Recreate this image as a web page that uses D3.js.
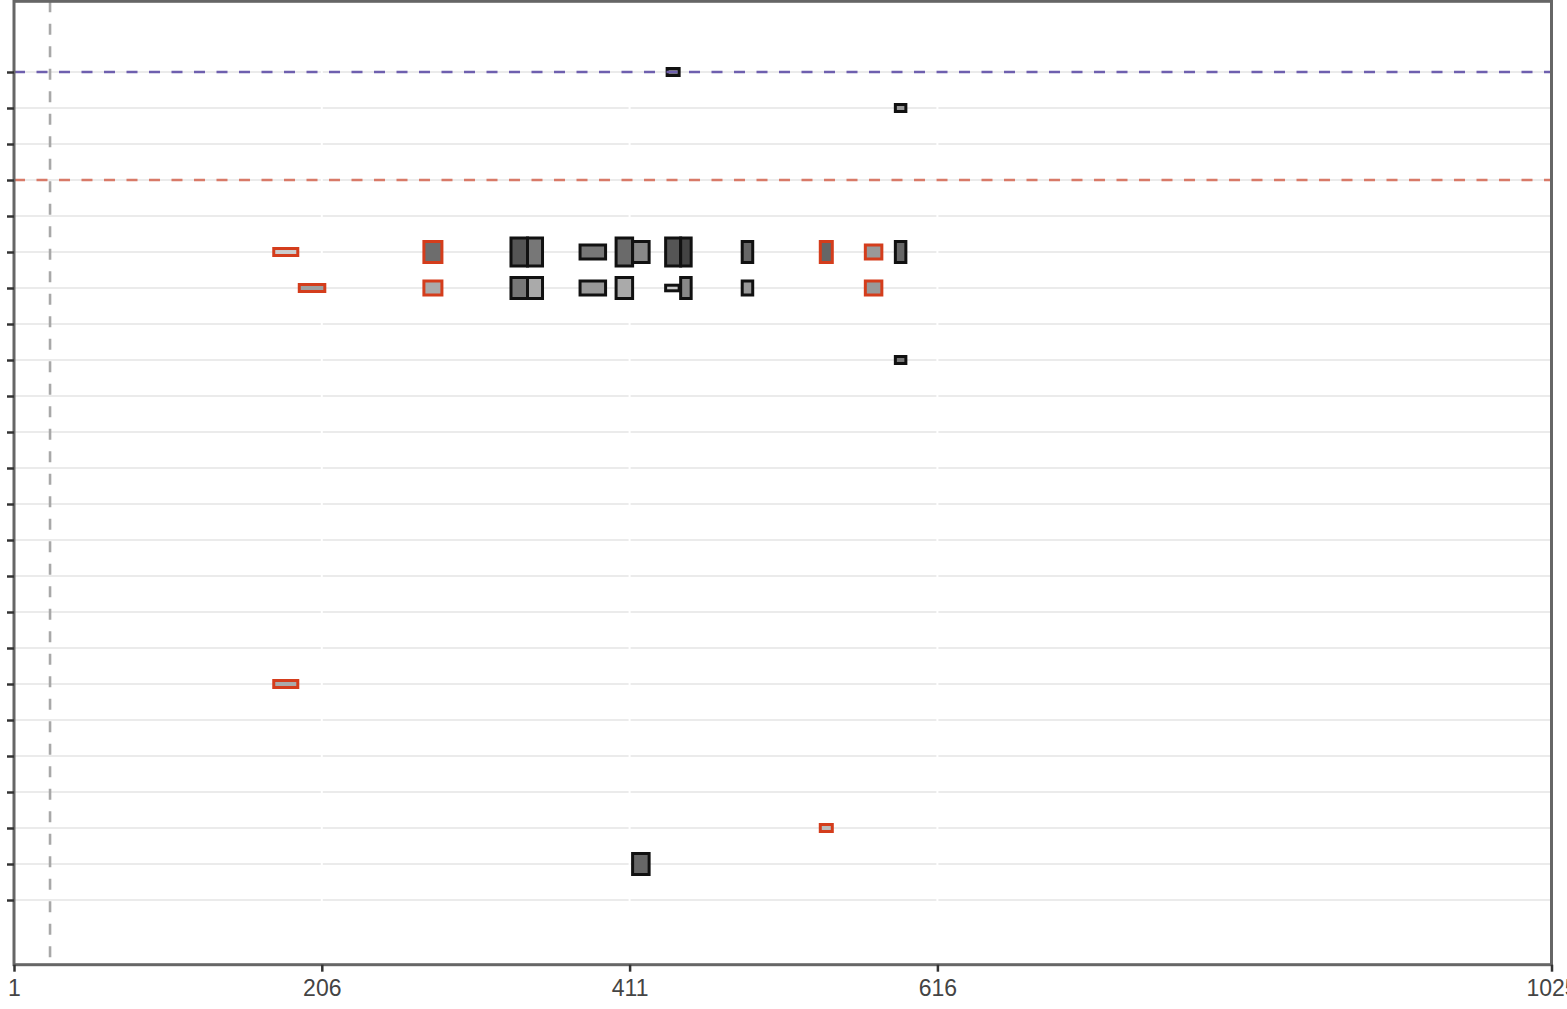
<!DOCTYPE html>
<html><head><meta charset="utf-8">
<script src="https://cdn.jsdelivr.net/npm/d3@7"></script>
<style>body{margin:0;background:#fff}svg{display:block}</style>
</head><body>
<svg id="chart" width="1567" height="1009"></svg>
<script>
// ---- data ----
const rowLabels = ["R1","R2","R3","R4","R5","R6","R7","R8","R9","R10","R11","R12",
  "R13","R14","R15","R16","R17","R18","R19","R20","R21","R22","R23","R24"];
const xTicks = [1, 206, 411, 616, 1025];
const featRow   = ["R1","R2","R6","R7","R6","R7","R6","R6","R6","R6","R6","R6","R6","R6","R6","R6","R6",
                   "R7","R7","R7","R7","R7","R7","R7","R7","R9","R18","R22","R23"];
const featStart = [436,588,174,191,274,274,332,343,378,402,413,435,445,486,538,568,588,
                   332,343,378,402,435,445,486,568,588,174,538,413];
const featEnd   = [444,595,190,208,286,286,343,353,395,413,424,445,452,493,546,579,595,
                   343,353,395,413,444,452,493,579,595,190,546,424];
const featLevel = [1,1,1,1,3,2,4,4,2,4,3,4,4,3,3,2,3,
                   3,3,2,3,0.8,3,2,2,1,1,1,3];
const featShade = [0.625,0.375,0,0.33,0.7,0.25,0.875,0.625,0.625,0.72,0.5,0.875,1,0.75,0.75,0.375,0.75,
                   0.625,0.25,0.375,0.25,0,0.5,0.375,0.375,0.625,0.25,0.125,0.75];
const featGroup = ["a","a","b","b","b","b","a","a","a","a","a","a","a","a","b","b","a",
                   "a","a","a","a","a","a","a","b","a","b","b","a"];
const refRows = ["R1","R4"];
const refColors = ["#6e5fae","#d87a68"];
const refX = [25];

// ---- layout ----
const svg = d3.select("#chart");
const L = 14, R = 1551.5, T = 1.3, B = 964.7;
const x = d3.scaleLinear().domain([1, 1025]).range([L, R]);
const y = d3.scalePoint().domain(rowLabels).range([72, 900]);
const h = d3.scaleLinear().domain([0, 4]).range([0, 28]);
const shade = d3.scaleLinear().domain([0, 1]).range(["#cccccc", "#444444"]);
const edge = d3.scaleOrdinal().domain(["a","b"]).range(["#111111","#d43d1c"]);

// horizontal grid
svg.append("g").selectAll("line").data(rowLabels).join("line")
  .attr("x1", L).attr("x2", R).attr("y1", d => y(d)).attr("y2", d => y(d))
  .attr("stroke", "#ebebeb").attr("stroke-width", 2);
// vertical grid (white)
svg.append("g").selectAll("line").data(xTicks.slice(1, -1)).join("line")
  .attr("x1", d => x(d)).attr("x2", d => x(d)).attr("y1", T).attr("y2", B)
  .attr("stroke", "#ffffff").attr("stroke-width", 2);

// features
const feats = featRow.map((r, i) => ({r, s: featStart[i], e: featEnd[i], lv: featLevel[i], sh: featShade[i], g: featGroup[i]}));
svg.append("g").selectAll("rect").data(feats).join("rect")
  .attr("x", d => x(d.s)).attr("width", d => x(d.e) - x(d.s))
  .attr("y", d => y(d.r) - h(d.lv) / 2).attr("height", d => h(d.lv))
  .attr("fill", d => shade(d.sh)).attr("stroke", d => edge(d.g)).attr("stroke-width", 3);

// reference lines
svg.append("g").selectAll("line").data(refRows).join("line")
  .attr("x1", L).attr("x2", R).attr("y1", d => y(d)).attr("y2", d => y(d))
  .attr("stroke", (d, i) => refColors[i]).attr("stroke-width", 2.6)
  .attr("stroke-dasharray", "11,11.5");
svg.append("g").selectAll("line").data(refX).join("line")
  .attr("x1", d => x(d)).attr("x2", d => x(d)).attr("y1", T).attr("y2", B)
  .attr("stroke", "#a8a8a8").attr("stroke-width", 2.6)
  .attr("stroke-dasharray", "11,11.5");

// frame
svg.append("rect").attr("x", L).attr("y", T).attr("width", R - L).attr("height", B - T)
  .attr("fill", "none").attr("stroke", "#666666").attr("stroke-width", 3);

// axes
const xa = svg.append("g").attr("transform", `translate(0,${B})`)
  .call(d3.axisBottom(x).tickValues(xTicks).tickSize(7).tickPadding(8).tickFormat(d3.format("d")));
xa.select(".domain").remove();
xa.selectAll(".tick line").attr("stroke", "#333").attr("stroke-width", 2.5);
xa.selectAll(".tick text").attr("fill", "#444").style("font-family", "Liberation Sans, Arial, sans-serif").style("font-size", "23px");

const ya = svg.append("g").attr("transform", `translate(${L},0)`)
  .call(d3.axisLeft(y).tickSize(7).tickPadding(40));
ya.select(".domain").remove();
ya.selectAll(".tick line").attr("stroke", "#333").attr("stroke-width", 2.5);
ya.selectAll(".tick text").attr("fill", "#444").style("font-family", "Liberation Sans, Arial, sans-serif").style("font-size", "16px");
</script>
</body></html>
